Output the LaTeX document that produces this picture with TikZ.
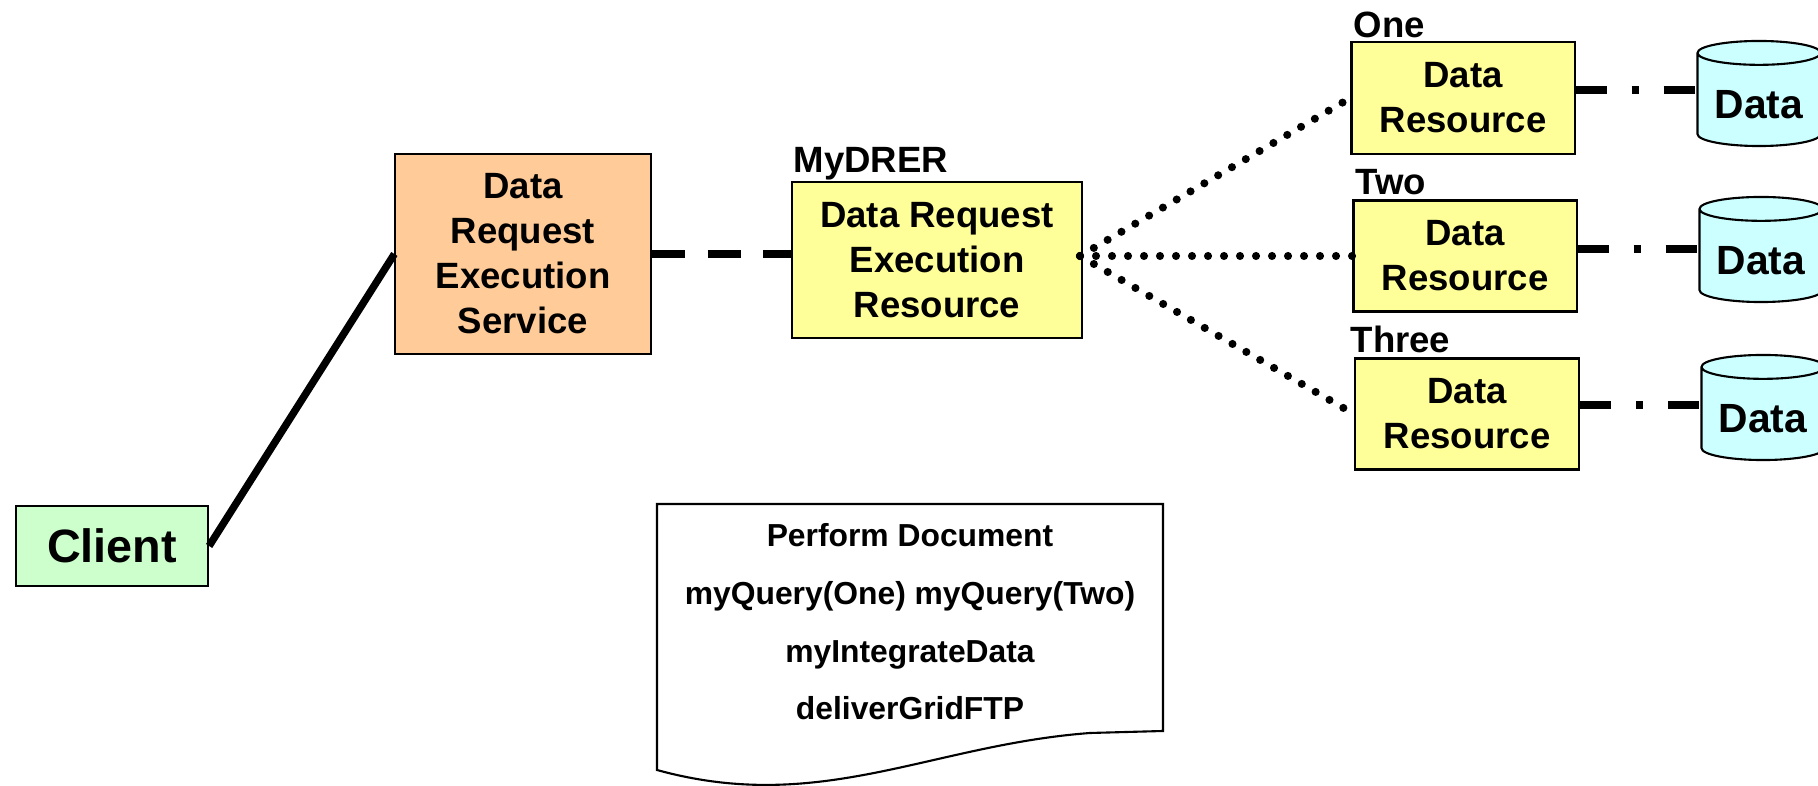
\documentclass[tikz,border=0pt]{standalone}
\usepackage{fontspec}
\setmainfont{Liberation Sans}
\usetikzlibrary{shapes.geometric}

\definecolor{clientgreen}{HTML}{CCFFCC}
\definecolor{serviceorange}{HTML}{FFCC99}
\definecolor{resyellow}{HTML}{FFFF99}
\definecolor{datacyan}{HTML}{CCFFFF}

\newcommand{\storetext}[1]{\raisebox{-0.05cm}[\height][\depth]{#1}}

\begin{document}
\begin{tikzpicture}[x=0.01cm, y=-0.01cm,
    box/.style={draw, line width=0.6pt, align=center, inner sep=0pt,
        font=\bfseries\fontsize{10.4}{12.8}\selectfont},
    tag/.style={anchor=base west, inner sep=0pt,
        font=\bfseries\fontsize{10.4}{12.8}\selectfont},
    store/.style={draw, line width=0.6pt, fill=datacyan, cylinder,
        shape border rotate=90, shape aspect=0.27, inner sep=0pt,
        minimum width=1.23cm, minimum height=1.05cm,
        font=\bfseries\fontsize{11.6}{14}\selectfont},
    solidlink/.style={line width=2.1pt},
    dashlink/.style={line width=2.2pt, dash pattern=on 9.4pt off 6.5pt},
    dotlink/.style={line width=2.3pt, line cap=round, dash pattern=on 0pt off 4.55pt},
    dashdotlink/.style={line width=2.2pt, dash pattern=on 8.8pt off 7.1pt on 2pt off 7.1pt}]
    \useasboundingbox (0,0) rectangle (1818,786);

    % boxes
    \node[box, fill=clientgreen, minimum width=1.92cm, minimum height=0.8cm,
        font=\bfseries\fontsize{13.3}{16}\selectfont] (client) at (112,546) {Client};
    \node[box, fill=serviceorange, minimum width=2.55cm, minimum height=2cm] (dres) at (523,254)
        {Data\\Request\\Execution\\Service};
    \node[box, fill=resyellow, minimum width=2.89cm, minimum height=1.56cm] (drer) at (937,260)
        {Data Request\\Execution\\Resource};
    \node[box, fill=resyellow, minimum width=2.23cm, minimum height=1.12cm] (dr1) at (1463,98)
        {Data\\Resource};
    \node[box, fill=resyellow, minimum width=2.23cm, minimum height=1.11cm] (dr2) at (1465,256)
        {Data\\Resource};
    \node[box, fill=resyellow, minimum width=2.24cm, minimum height=1.11cm] (dr3) at (1467,414)
        {Data\\Resource};

    % names above the boxes
    \node[tag] (drername) at (793,173) {MyDRER};
    \node[tag] (onename) at (1353,38) {One};
    \node[tag] (twoname) at (1355,195) {Two};
    \node[tag] (threename) at (1350,353) {Three};

    % data stores
    \node[store] (data1) at (1759,100) {\storetext{Data}};
    \node[store] (data2) at (1761,256) {\storetext{Data}};
    \node[store] (data3) at (1763,414) {\storetext{Data}};

    % links
    \draw[solidlink] (client.east) -- (dres.west);
    \draw[dashlink] (dres.east) -- (dres.east -| drer.west);
    \coordinate (fan) at (1080,256);
    \draw[dotlink] (fan) -- (dr1.west);
    \draw[dotlink] (fan) -- (dr2.west);
    \draw[dotlink] (fan) -- (dr3.west);
    \draw[dashdotlink] ([yshift=0.08cm]dr1.east) -- ([yshift=0.08cm]dr1.east -| data1.west);
    \draw[dashdotlink] ([yshift=0.07cm]dr2.east) -- ([yshift=0.07cm]dr2.east -| data2.west);
    \draw[dashdotlink] ([yshift=0.09cm]dr3.east) -- ([yshift=0.09cm]dr3.east -| data3.west);

    % perform document
    \draw[line width=0.6pt, fill=white] (657,504) -- (1163,504) -- (1163,731) -- (1090,733)
        .. controls (930,745) and (820,815) .. (657,770) -- cycle;
    \node[align=center, inner sep=0pt, font=\bfseries\fontsize{9.05}{16.4}\selectfont] (perform) at (910,622)
        {Perform Document\\myQuery(One) myQuery(Two)\\myIntegrateData\\deliverGridFTP};
\end{tikzpicture}
\end{document}
